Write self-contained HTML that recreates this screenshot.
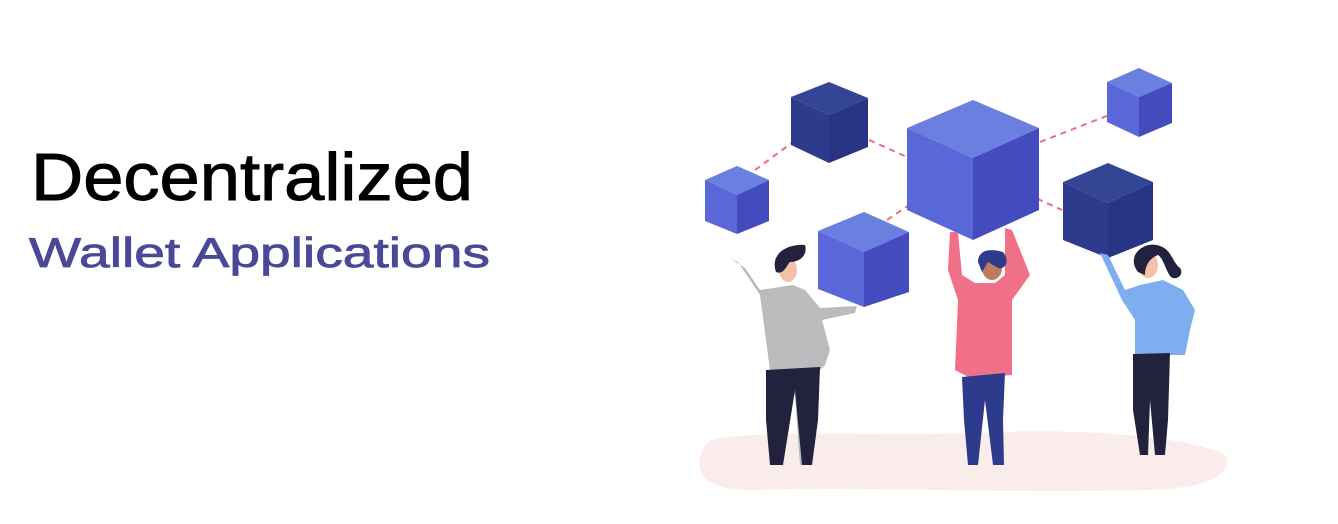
<!DOCTYPE html>
<html><head><meta charset="utf-8"><style>html,body{margin:0;padding:0;background:#fff}svg{display:block}</style></head>
<body>
<svg width="1338" height="524" viewBox="0 0 1338 524" xmlns="http://www.w3.org/2000/svg">
<text x="31" y="200" font-family="Liberation Sans, sans-serif" font-size="67" fill="#000" stroke="#000" stroke-width="1" textLength="442" lengthAdjust="spacingAndGlyphs">Decentralized</text>
<text x="29" y="267" font-family="Liberation Sans, sans-serif" font-size="42" fill="#4a4897" stroke="#4a4897" stroke-width="0.8" textLength="461" lengthAdjust="spacingAndGlyphs">Wallet Applications</text>
<path d="M712,440 C760,428 900,438 1000,432 C1100,428 1200,440 1225,455 C1235,470 1215,488 1150,490 C1000,494 850,486 760,490 C710,492 695,475 700,458 C703,448 706,443 712,440Z" fill="#fbecec"/>
<g stroke="#f06b80" stroke-width="2" stroke-dasharray="6,5" fill="none">
<line x1="755" y1="170" x2="808" y2="131"/>
<line x1="849" y1="131" x2="907" y2="157"/>
<line x1="887" y1="220" x2="940" y2="184"/>
<line x1="1007" y1="185" x2="1062" y2="210"/>
<line x1="1040" y1="142" x2="1122" y2="110"/>
</g>
<g>
<polygon points="829,82 868,98 829,115 791,97" fill="#354596"/>
<polygon points="791,97 829,115 829,163 791,145" fill="#2e3b8d"/>
<polygon points="829,115 868,98 868,147 829,163" fill="#283584"/>
<polygon points="737,166 769,180 737,195 705,180" fill="#6a7fe0"/>
<polygon points="705,180 737,195 737,234 705,221" fill="#5a67d8"/>
<polygon points="737,195 769,180 769,221 737,234" fill="#434bbf"/>
<polygon points="973,100 1039,128 973,158 907,128" fill="#6a7fe0"/>
<polygon points="907,128 973,158 973,240 907,210" fill="#5a67d8"/>
<polygon points="973,158 1039,128 1039,210 973,240" fill="#434bbf"/>
<polygon points="864,212 909,232 864,252 818,231" fill="#6a7fe0"/>
<polygon points="818,231 864,252 864,307 818,289" fill="#5a67d8"/>
<polygon points="864,252 909,232 909,292 864,307" fill="#434bbf"/>
<polygon points="1139,68 1172,83 1139,97 1107,82" fill="#6a7fe0"/>
<polygon points="1107,82 1139,97 1139,137 1107,122" fill="#5a67d8"/>
<polygon points="1139,97 1172,83 1172,123 1139,137" fill="#434bbf"/>
<polygon points="1108,163 1153,182 1108,203 1063,182" fill="#354596"/>
<polygon points="1063,182 1108,203 1108,258 1063,240" fill="#2e3b8d"/>
<polygon points="1108,203 1153,182 1153,240 1108,258" fill="#283584"/>
</g>
<path d="M730,258 L738,262 L760,295 L770,370 L770,440 L770,465 L780,465 L790,395 L795,395 L800,465 L812,465 L820,370 L825,365 L830,350 L822,320 L855,313 L857,306 L820,308 L805,290 L793,285 L760,290 L745,268 Z" fill="#b9bbbd"/>
<path d="M766,370 L820,367 L818,420 L812,465 L802,465 L795,390 L783,465 L770,465 L766,420Z" fill="#22223f"/>
<ellipse cx="788" cy="270" rx="9" ry="12" fill="#f6c0a8"/>
<path d="M776,272 C770,255 785,244 805,245 C808,255 800,262 790,262 C786,266 784,275 776,272Z" fill="#22223f"/>
<path d="M950,232 L958,232 L962,275 L975,283 L995,283 L1005,275 L1005,228 L1012,230 L1030,275 L1012,300 L1012,375 L970,378 L955,370 L958,300 L948,270Z" fill="#f07187"/>
<path d="M962,377 L1005,373 L1003,420 L1004,465 L993,465 L985,400 L978,465 L968,465 L964,420Z" fill="#2e3a8c"/>
<ellipse cx="992" cy="268" rx="10" ry="12" fill="#c07b5f"/>
<path d="M978,262 C978,250 990,248 1003,252 C1010,260 1006,270 998,268 L988,262 L982,272Z" fill="#2e3b8d"/>
<path d="M1100,253 L1108,255 L1125,290 L1140,285 L1163,280 L1183,290 L1195,310 L1190,330 L1185,355 L1135,355 L1135,320 L1122,300Z" fill="#7eaef0"/>
<path d="M1133,354 L1170,353 L1168,420 L1165,455 L1155,455 L1150,400 L1148,455 L1140,455 L1133,410Z" fill="#22223f"/>
<ellipse cx="1148" cy="265" rx="10" ry="13" fill="#f6c0a8"/>
<path d="M1138,272 C1125,255 1145,240 1160,246 C1172,250 1172,262 1180,268 C1185,275 1175,282 1170,276 C1165,268 1163,258 1158,255 C1150,258 1145,265 1145,275Z" fill="#22223f"/>
</svg>
</body></html>
